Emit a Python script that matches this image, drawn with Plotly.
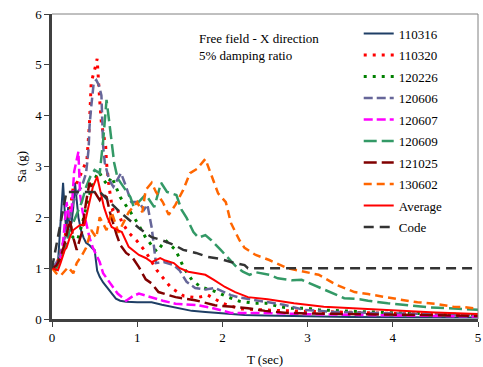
import plotly.graph_objects as go

# Response spectra, free field X direction, 5% damping
t_110316 = [0, 0.04, 0.07, 0.09, 0.11, 0.13, 0.15, 0.17, 0.19, 0.21, 0.23, 0.25, 0.27, 0.29, 0.31, 0.34, 0.37, 0.40,
            0.44, 0.48, 0.50, 0.53, 0.56, 0.60, 0.65, 0.70, 0.75, 0.80, 0.87, 1.0, 1.17, 1.29, 1.45, 1.64, 1.8, 1.98,
            2.26, 2.5, 3.0, 3.5, 4.0, 4.5, 5.0]
sa_110316 = [1.0, 0.95, 1.1, 1.6, 2.2, 2.68, 2.1, 1.7, 2.2, 1.8, 1.9, 2.2, 2.68, 2.3, 2.0, 1.75, 1.6, 1.5,
             1.45, 1.38, 1.36, 0.95, 0.83, 0.72, 0.61, 0.5, 0.4, 0.36, 0.34, 0.33, 0.33, 0.28, 0.22, 0.16, 0.14,
             0.12, 0.08, 0.07, 0.05, 0.04, 0.035, 0.03, 0.03]

t_110320 = [0, 0.05, 0.1, 0.15, 0.2, 0.25, 0.3, 0.35, 0.41, 0.44, 0.46, 0.5, 0.53, 0.56, 0.58, 0.63, 0.64, 0.67,
            0.71, 0.76, 0.82, 0.9, 0.99, 1.1, 1.23, 1.4, 1.55, 1.7, 1.83, 2.0, 2.2, 2.6, 3.0, 3.5, 4.0, 4.5, 5.0]
sa_110320 = [1.0, 1.05, 1.3, 1.6, 2.0, 2.6, 2.7, 2.9, 3.13, 3.85, 4.65, 4.9, 5.12, 4.3, 3.85, 3.4, 3.07, 2.6,
             2.15, 2.2, 1.9, 1.7, 1.55, 1.32, 0.96, 0.61, 0.45, 0.42, 0.47, 0.31, 0.2, 0.17, 0.15, 0.13, 0.11, 0.09, 0.07]

t_120226 = [0, 0.05, 0.1, 0.15, 0.2, 0.25, 0.3, 0.35, 0.4, 0.45, 0.5, 0.55, 0.6, 0.65, 0.7, 0.8, 0.93, 1.0, 1.1,
            1.23, 1.33, 1.45, 1.55, 1.65, 1.75, 1.9, 2.07, 2.2, 2.38, 2.52, 2.67, 2.82, 3.0, 3.13, 3.4, 3.8, 4.2,
            4.6, 5.0]
sa_120226 = [1.0, 1.05, 1.2, 1.45, 1.7, 1.6, 1.55, 1.85, 2.2, 2.5, 2.75, 2.9, 2.75, 2.64, 2.8, 2.4, 2.08, 1.9, 1.6,
             1.32, 1.55, 1.36, 1.0, 0.75, 0.63, 0.55, 0.43, 0.35, 0.31, 0.31, 0.24, 0.21, 0.21, 0.18, 0.16, 0.13,
             0.11, 0.1, 0.08]

t_120606 = [0, 0.05, 0.1, 0.15, 0.2, 0.25, 0.3, 0.35, 0.4, 0.43, 0.44, 0.46, 0.49, 0.52, 0.55, 0.58, 0.6, 0.62,
            0.67, 0.72, 0.81, 0.87, 0.93, 1.02, 1.08, 1.12, 1.17, 1.22, 1.31, 1.43, 1.5, 1.58, 1.68, 1.8,
            1.91, 2.1, 2.18, 2.35, 2.53, 2.72, 2.96, 3.3, 3.7, 4.2, 4.6, 5.0]
sa_120606 = [1.0, 1.1, 1.3, 1.6, 1.9, 2.3, 2.5, 2.6, 2.87, 3.35, 3.78, 4.17, 4.65, 4.7, 4.6, 4.4, 3.4, 3.07,
             2.74, 2.6, 2.87, 2.6, 2.3, 2.3, 2.15, 2.25, 1.8, 1.1, 1.12, 1.06, 0.95, 0.73, 0.61, 0.58,
             0.61, 0.47, 0.43, 0.38, 0.33, 0.28, 0.18, 0.14, 0.12, 0.1, 0.09, 0.08]

t_120607 = [0, 0.05, 0.1, 0.12, 0.14, 0.17, 0.2, 0.23, 0.26, 0.28, 0.31, 0.33, 0.36, 0.4, 0.44, 0.48, 0.52, 0.56,
            0.6, 0.66, 0.72, 0.77, 0.87, 0.95, 1.02, 1.1, 1.17, 1.3, 1.45, 1.6, 1.72, 1.87, 2.0, 2.1, 2.4, 2.8, 3.2,
            3.6, 4.0, 4.5, 5.0]
sa_120607 = [1.0, 1.05, 1.2, 1.36, 1.69, 2.3, 2.0, 2.15, 2.9, 3.07, 3.29, 2.44, 2.1, 1.9, 1.6, 1.4, 1.25, 1.12,
             0.9, 0.75, 0.62, 0.5, 0.36, 0.45, 0.5, 0.46, 0.42, 0.36, 0.3, 0.28, 0.27, 0.22, 0.17, 0.12, 0.12, 0.1,
             0.09, 0.08, 0.07, 0.06, 0.05]

t_120609 = [0, 0.05, 0.1, 0.15, 0.2, 0.25, 0.3, 0.35, 0.4, 0.45, 0.5, 0.56, 0.6, 0.62, 0.64, 0.67, 0.7, 0.73,
            0.77, 0.82, 0.87, 0.92, 0.96, 1.02, 1.1, 1.2, 1.28, 1.35, 1.46, 1.52, 1.58, 1.66, 1.72, 1.8, 1.87, 1.98,
            2.07, 2.15, 2.24, 2.32, 2.39, 2.55, 2.65, 2.82, 2.93, 3.07, 3.2, 3.34, 3.43, 3.61, 3.71, 3.94, 4.23,
            4.42, 4.77, 5.0]
sa_120609 = [1.0, 1.0, 1.15, 1.4, 1.7, 1.9, 2.1, 2.3, 2.6, 2.8, 2.93, 2.87, 3.5, 3.85, 4.31, 3.9, 3.52, 3.07,
             2.77, 2.65, 2.54, 2.4, 2.2, 2.3, 2.45, 2.2, 2.68, 2.5, 2.44, 2.15, 1.99, 1.71, 1.6, 1.65, 1.55, 1.36,
             1.2, 1.05, 0.93, 0.87, 0.92, 0.87, 0.8, 0.76, 0.77, 0.67, 0.57, 0.47, 0.41, 0.39, 0.36, 0.31, 0.26,
             0.23, 0.2, 0.18]

t_121025 = [0, 0.05, 0.1, 0.15, 0.21, 0.25, 0.29, 0.35, 0.4, 0.44, 0.5, 0.56, 0.6, 0.64, 0.68, 0.72, 0.76, 0.8,
            0.87, 0.94, 1.02, 1.1, 1.17, 1.25, 1.45, 1.68, 1.91, 2.12, 2.3, 2.5, 2.76, 3.0, 3.5, 4.0, 4.5, 5.0]
sa_121025 = [1.0, 1.05, 1.2, 1.5, 1.95, 1.6, 1.36, 1.7, 2.3, 2.68, 2.5, 2.34, 2.45, 2.4, 2.1, 1.85, 1.65, 1.46,
             1.3, 1.22, 1.02, 0.78, 0.7, 0.53, 0.43, 0.37, 0.27, 0.24, 0.21, 0.16, 0.12, 0.11, 0.1, 0.08, 0.07, 0.06]

t_130602 = [0, 0.05, 0.1, 0.15, 0.19, 0.25, 0.29, 0.35, 0.4, 0.46, 0.52, 0.56, 0.64, 0.7, 0.78, 0.9, 1.0, 1.06,
            1.1, 1.17, 1.22, 1.3, 1.37, 1.45, 1.54, 1.62, 1.7, 1.8, 1.87, 1.95, 2.04, 2.1, 2.2, 2.26, 2.39,
            2.55, 2.76, 2.97, 3.13, 3.34, 3.55, 3.71, 3.9, 4.13, 4.29, 4.5, 4.71, 4.85, 5.0]
sa_130602 = [1.0, 0.9, 0.85, 0.95, 1.02, 0.9, 1.1, 1.25, 1.4, 1.75, 1.6, 2.0, 1.75, 2.1, 1.7, 2.1, 2.3, 2.1,
             2.54, 2.68, 2.5, 2.3, 2.05, 2.25, 2.54, 2.87, 2.95, 3.15, 2.83, 2.47, 2.3, 1.89, 1.55, 1.4, 1.26,
             1.16, 1.0, 0.93, 0.87, 0.67, 0.53, 0.49, 0.43, 0.37, 0.33, 0.3, 0.24, 0.23, 0.2]

t_avg = [0, 0.07, 0.1, 0.15, 0.17, 0.21, 0.25, 0.29, 0.33, 0.38, 0.42, 0.45, 0.48, 0.53, 0.57, 0.61, 0.65, 0.7,
         0.77, 0.82, 0.9, 1.02, 1.1, 1.17, 1.27, 1.33, 1.43, 1.5, 1.6, 1.7, 1.8, 1.9, 2.03, 2.15, 2.3, 2.53, 2.84,
         3.19, 3.54, 4.0, 4.5, 5.0]
sa_avg = [1.0, 0.96, 1.1, 1.36, 1.4, 1.61, 1.75, 1.8, 1.85, 1.85, 2.15, 2.4, 2.6, 2.8, 2.5, 2.2, 2.0, 1.81,
          1.75, 1.71, 1.42, 1.26, 1.2, 1.12, 1.2, 1.15, 1.1, 1.0, 0.93, 0.9, 0.87, 0.77, 0.63, 0.53, 0.43, 0.39,
          0.31, 0.24, 0.21, 0.17, 0.13, 0.1]

t_code = [0, 0.17, 0.56, 0.65, 0.8, 1.02, 1.17, 1.29, 1.43, 1.54, 1.69, 1.83, 1.98, 2.1, 2.26, 2.3, 5.0]
sa_code = [1.0, 2.5, 2.5, 2.35, 2.1, 1.79, 1.61, 1.55, 1.46, 1.36, 1.3, 1.22, 1.18, 1.12, 1.06, 1.0, 1.0]

series = [
    ("110316", t_110316, sa_110316, "#1f3f66", "solid", 2),
    ("110320", t_110320, sa_110320, "#ff0000", "3px,6px", 3),
    ("120226", t_120226, sa_120226, "#008000", "3px,6px", 3),
    ("120606", t_120606, sa_120606, "#666699", "9px,4px", 2.5),
    ("120607", t_120607, sa_120607, "#ff00ff", "9px,4px", 2.5),
    ("120609", t_120609, sa_120609, "#339966", "13px,5px", 2.5),
    ("121025", t_121025, sa_121025, "#800000", "13px,5px", 2.5),
    ("130602", t_130602, sa_130602, "#ff6600", "8px,5px", 2.5),
    ("Average", t_avg, sa_avg, "#ff0000", "solid", 2),
    ("Code", t_code, sa_code, "#333333", "10px,6px", 2.5),
]

fig = go.Figure()
for name, t, sa, color, dash, width in series:
    fig.add_trace(go.Scatter(x=t, y=sa, mode="lines", name=name, legendgroup=name,
                             line=dict(color=color, dash=dash, width=width)))

font = dict(family="Liberation Serif, Times New Roman, serif", size=13, color="#000000")

fig.update_layout(
    width=483, height=367,
    margin=dict(l=52, r=2, t=14, b=48),
    paper_bgcolor="white", plot_bgcolor="white",
    font=font,
    showlegend=True,
    legend=dict(x=0.72, y=0.985, xanchor="left", yanchor="top",
                bgcolor="rgba(0,0,0,0)", font=font, tracegroupgap=1.6),
    xaxis=dict(range=[0, 5], dtick=1, ticklabeloverflow="allow",
               showgrid=False, zeroline=False,
               showline=True, linecolor="#404040", linewidth=2.5,
               ticks="outside", ticklen=5, tickcolor="#404040",
               title=dict(text="T (sec)", font=font, standoff=11)),
    yaxis=dict(range=[0, 6], dtick=1, showgrid=False, zeroline=False,
               showline=True, linecolor="#404040", linewidth=2.5,
               ticks="outside", ticklen=5, tickcolor="#404040",
               title=dict(text="Sa (g)", font=font, standoff=6)),
    shapes=[
        dict(type="line", xref="paper", yref="paper", x0=0, x1=1, y0=1, y1=1,
             line=dict(color="#808080", width=1)),
        dict(type="line", xref="paper", yref="paper", x0=1, x1=1, y0=0, y1=1,
             line=dict(color="#808080", width=1)),
    ],
    annotations=[
        dict(text="Free field - X direction<br>5% damping ratio", xref="paper", yref="paper",
             x=0.34, y=0.95, xanchor="left", yanchor="top", showarrow=False, align="left",
             font=font),
    ],
)

fig.write_html("out.html")
